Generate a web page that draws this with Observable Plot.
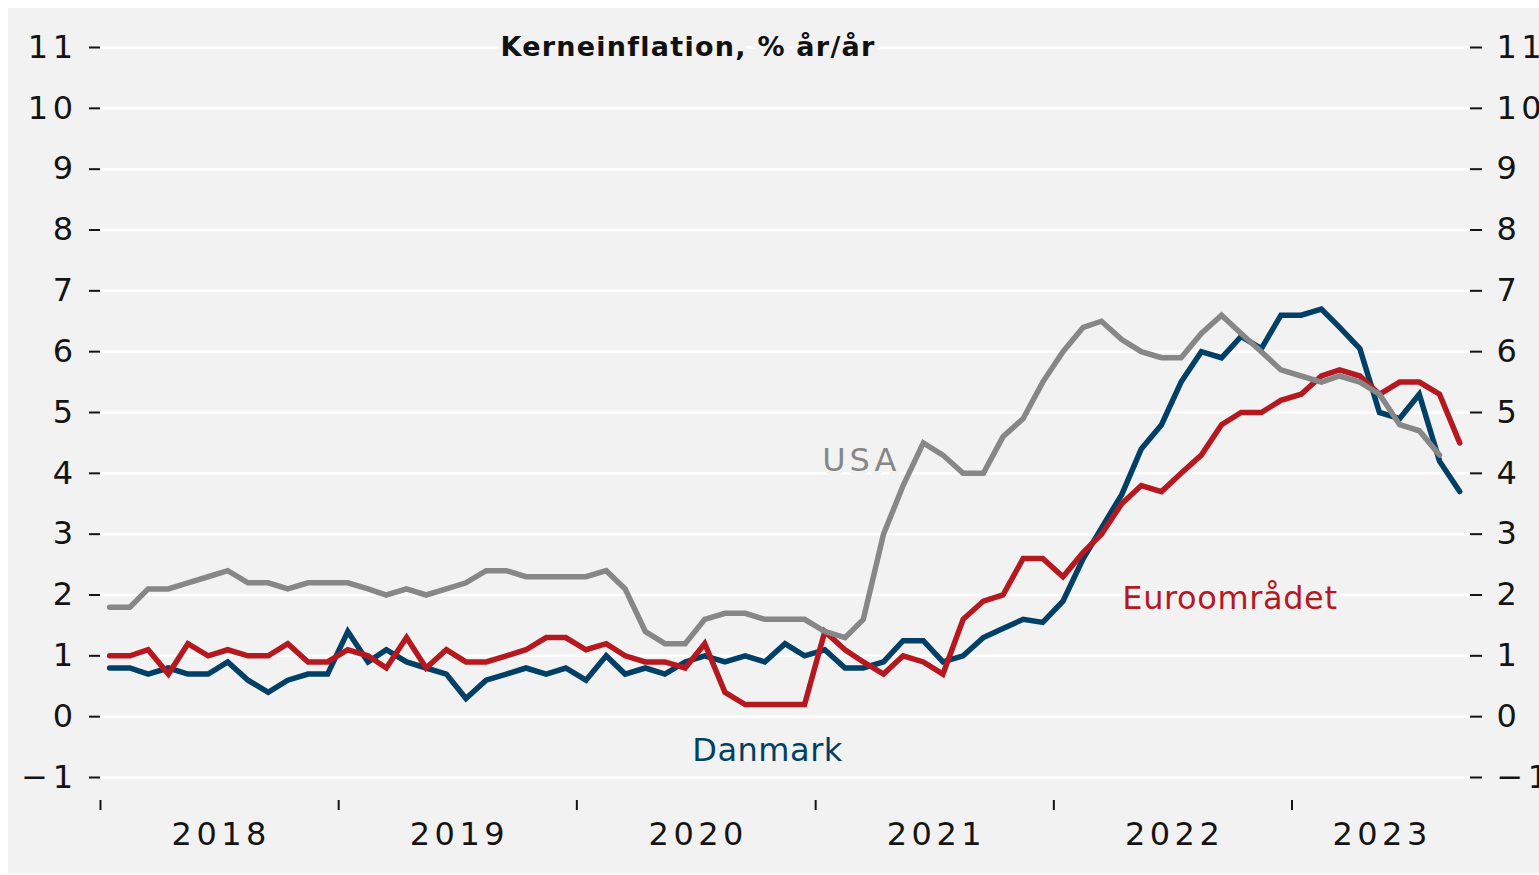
<!DOCTYPE html>
<html>
<head>
<meta charset="utf-8">
<script src="https://cdn.jsdelivr.net/npm/d3@7"></script>
<script src="https://cdn.jsdelivr.net/npm/@observablehq/plot@0.6"></script>
<style>
html, body { margin: 0; padding: 0; background: #ffffff; overflow: hidden; }
#chart { position: absolute; left: 8px; top: 8px; width: 1600px; height: 865px; background: #f2f2f2; overflow: hidden; }
#chart g[aria-label="y-axis tick label"] text,
#chart g[aria-label="x-axis tick label"] text { letter-spacing: 4.5px; }
</style>
</head>
<body>
<div id="chart"></div>
<script>
// ---- Data (monthly, Jan 2018 onward), core inflation % y/y ----
const firstYear = 2018;
const danmark = [
  0.8, 0.8, 0.7, 0.8, 0.7, 0.7, 0.9, 0.6, 0.4, 0.6, 0.7, 0.7,
  1.4, 0.9, 1.1, 0.9, 0.8, 0.7, 0.3, 0.6, 0.7, 0.8, 0.7, 0.8,
  0.6, 1.0, 0.7, 0.8, 0.7, 0.9, 1.0, 0.9, 1.0, 0.9, 1.2, 1.0,
  1.1, 0.8, 0.8, 0.9, 1.25, 1.25, 0.9, 1.0, 1.3, 1.45, 1.6, 1.55,
  1.9, 2.6, 3.1, 3.65, 4.4, 4.8, 5.5, 6.0, 5.9, 6.25, 6.05, 6.6,
  6.6, 6.7, 6.4, 6.05, 5.0, 4.9, 5.3, 4.2, 3.7
];
const euroomraadet = [
  1.0, 1.0, 1.1, 0.7, 1.2, 1.0, 1.1, 1.0, 1.0, 1.2, 0.9, 0.9,
  1.1, 1.0, 0.8, 1.3, 0.8, 1.1, 0.9, 0.9, 1.0, 1.1, 1.3, 1.3,
  1.1, 1.2, 1.0, 0.9, 0.9, 0.8, 1.2, 0.4, 0.2, 0.2, 0.2, 0.2,
  1.4, 1.1, 0.9, 0.7, 1.0, 0.9, 0.7, 1.6, 1.9, 2.0, 2.6, 2.6,
  2.3, 2.7, 3.0, 3.5, 3.8, 3.7, 4.0, 4.3, 4.8, 5.0, 5.0, 5.2,
  5.3, 5.6, 5.7, 5.6, 5.3, 5.5, 5.5, 5.3, 4.5
];
const usa = [
  1.8, 1.8, 2.1, 2.1, 2.2, 2.3, 2.4, 2.2, 2.2, 2.1, 2.2, 2.2,
  2.2, 2.1, 2.0, 2.1, 2.0, 2.1, 2.2, 2.4, 2.4, 2.3, 2.3, 2.3,
  2.3, 2.4, 2.1, 1.4, 1.2, 1.2, 1.6, 1.7, 1.7, 1.6, 1.6, 1.6,
  1.4, 1.3, 1.6, 3.0, 3.8, 4.5, 4.3, 4.0, 4.0, 4.6, 4.9, 5.5,
  6.0, 6.4, 6.5, 6.2, 6.0, 5.9, 5.9, 6.3, 6.6, 6.3, 6.0, 5.7,
  5.6, 5.5, 5.6, 5.5, 5.3, 4.8, 4.7, 4.3
];

const seriesNames = ["Danmark", "Euroområdet", "USA"];
const seriesValues = [danmark, euroomraadet, usa];
const seriesColors = ["#003f66", "#b5191f", "#878787"];

const yTicks = [-1, 0, 1, 2, 3, 4, 5, 6, 7, 8, 9, 10, 11];
const yearTicks = ["2018-01-01", "2019-01-01", "2020-01-01", "2021-01-01", "2022-01-01", "2023-01-01"];
const yearLabelDates = ["2018-07-02", "2019-07-02", "2020-07-02", "2021-07-02", "2022-07-02", "2023-05-16"];
const xDomain = ["2018-01-01", "2023-09-30"];

const titleText = "Kerneinflation, % år/år";
const titleAnchor = {date: "2019-09-06", value: 11.0};
const seriesLabelAnchors = [
  {date: "2020-06-26", value: -0.56},
  {date: "2022-04-16", value: 1.94},
  {date: "2021-01-11", value: 4.21}
];

// ---- Build tidy table ----
const monthDate = (i) => new Date(Date.UTC(firstYear, i, 15));
const rows = [];
seriesNames.forEach((name, s) => {
  seriesValues[s].forEach((v, i) => rows.push({series: name, date: monthDate(i), value: v}));
});
const byName = (name) => rows.filter(d => d.series === name);

const fontFamily = "DejaVu Sans";
const fmtY = d => d < 0 ? "\u2212" + Math.abs(d) : String(d);

const chart = Plot.plot({
  width: 1580,
  height: 865,
  marginLeft: 92,
  marginRight: 119,
  marginTop: 39,
  marginBottom: 73,
  insetBottom: 23,
  style: {background: "transparent", fontFamily, fontSize: "32px", color: "#141414", maxWidth: "none", overflow: "visible"},
  x: {type: "utc", domain: xDomain.map(d => new Date(d))},
  y: {domain: [-1, 11]},
  marks: [
    Plot.gridY(yTicks, {stroke: "#ffffff", strokeWidth: 2.5, strokeOpacity: 1}),
    Plot.axisY(yTicks, {anchor: "left", tickSize: 11, tickPadding: 12, strokeWidth: 2, fontSize: 32, fontFamily, tickFormat: fmtY, label: null}),
    Plot.axisY(yTicks, {anchor: "right", tickSize: 12, tickPadding: 15, strokeWidth: 2, fontSize: 32, fontFamily, tickFormat: fmtY, label: null}),
    Plot.axisX(yearTicks.map(d => new Date(d)), {anchor: "bottom", tickSize: 10, strokeWidth: 2, tickFormat: () => "", label: null}),
    Plot.axisX(yearLabelDates.map(d => new Date(d)), {anchor: "bottom", tickSize: 0, tickPadding: 22, fontSize: 32, fontFamily, tickFormat: d3.utcFormat("%Y"), label: null, dx: 2}),
    ...seriesNames.map((name, s) => Plot.line(byName(name), {
      x: "date", y: "value", stroke: seriesColors[s], strokeWidth: 5.5, strokeLinejoin: "miter", strokeMiterlimit: 4
    })),
    Plot.text([titleText], {
      x: () => new Date(titleAnchor.date), y: () => titleAnchor.value,
      text: d => d, textAnchor: "start", lineAnchor: "middle",
      fontSize: 27, fontWeight: "bold", fontFamily, fill: "#111111",
      stroke: "#f2f2f2", strokeWidth: 10, paintOrder: "stroke"
    }),
    ...seriesNames.map((name, s) => Plot.text([name], {
      x: () => new Date(seriesLabelAnchors[s].date), y: () => seriesLabelAnchors[s].value,
      text: d => d, fill: seriesColors[s],
      textAnchor: "start", lineAnchor: "middle", fontSize: 32, fontFamily,
      stroke: "#f2f2f2", strokeWidth: 8, paintOrder: "stroke"
    }))
  ]
});
document.getElementById("chart").appendChild(chart);
const spacing = {"Kerneinflation, % år/år": "1.25px", "Danmark": "0.5px", "Euroområdet": "0.6px", "USA": "4px"};
d3.select(chart).selectAll("text").each(function () {
  const t = this.textContent;
  if (spacing[t]) this.style.letterSpacing = spacing[t];
});
</script>
</body>
</html>
